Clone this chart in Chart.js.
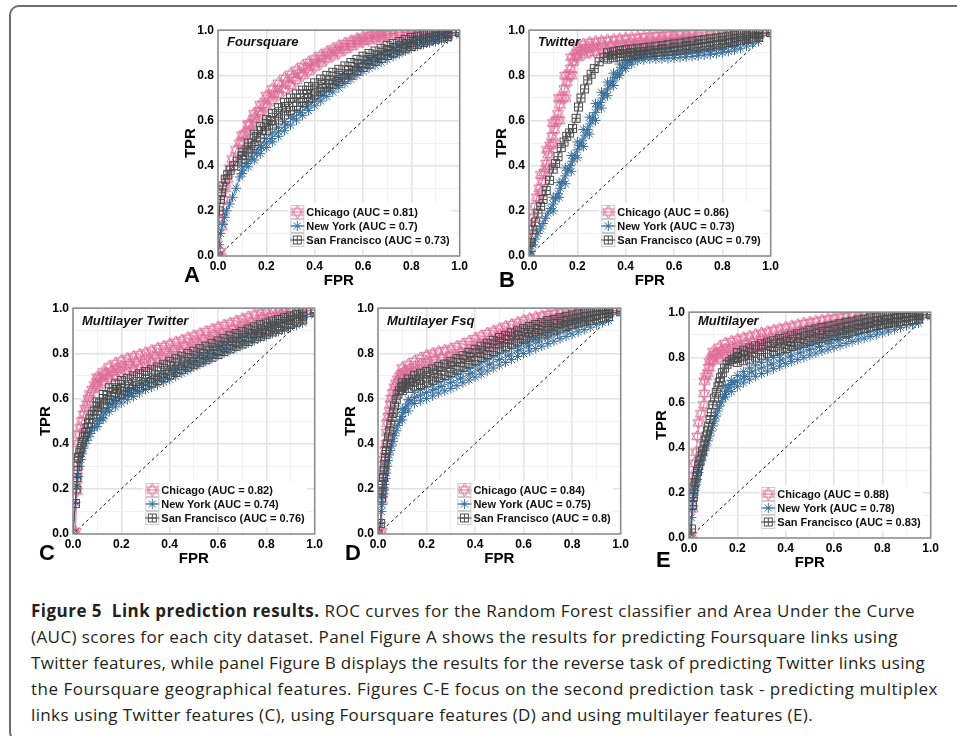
<!DOCTYPE html>
<html>
<head>
<meta charset="utf-8">
<script src="https://cdn.jsdelivr.net/npm/chart.js@4.4.1/dist/chart.umd.min.js"></script>
<style>
  html, body { margin: 0; padding: 0; background: #fff; }
  body { width: 957px; height: 736px; position: relative; overflow: hidden; }
  #frame { position: absolute; left: 9px; top: 5px; width: 1100px; height: 733px; border: 2px solid #6e6e6e; border-radius: 10px; }
  canvas { position: absolute; }
  .tag { position: absolute; font: bold 22px "Liberation Sans", Arial, sans-serif; color: #000; line-height: 1; z-index: 2; }
  .cap { position: absolute; left: 31px; font: 17px "Open Sans", sans-serif; color: #231f20; white-space: pre; line-height: 1; }
</style>
</head>
<body>
<div id="frame"></div>

<div class="tag" style="left:184px;top:264px">A</div>
<div class="tag" style="left:499px;top:269px">B</div>
<div class="tag" style="left:39px;top:542px">C</div>
<div class="tag" style="left:345px;top:542px">D</div>
<div class="tag" style="left:656px;top:549px">E</div>

<div class="cap" style="top:602px"><b>Figure 5  Link prediction results.</b> ROC curves for the Random Forest classifier and Area Under the Curve</div>
<div class="cap" style="top:628px">(AUC) scores for each city dataset. Panel Figure A shows the results for predicting Foursquare links using</div>
<div class="cap" style="top:654px">Twitter features, while panel Figure B displays the results for the reverse task of predicting Twitter links using</div>
<div class="cap" style="top:680px">the Foursquare geographical features. Figures C-E focus on the second prediction task - predicting multiplex</div>
<div class="cap" style="top:706px">links using Twitter features (C), using Foursquare features (D) and using multilayer features (E).</div>

<script>
// ROC curves [FPR, TPR] (centre of each marker trail)
const chicagoA = [[0,0],[0.01,0.02],[0.015,0.13],[0.02,0.19],[0.025,0.25],[0.03,0.3],[0.04,0.34],[0.05,0.39],[0.06,0.43],[0.075,0.47],[0.09,0.5],[0.11,0.54],[0.13,0.58],[0.15,0.61],[0.17,0.64],[0.19,0.67],[0.21,0.7],[0.23,0.72],[0.25,0.74],[0.28,0.765],[0.31,0.79],[0.34,0.81],[0.37,0.835],[0.4,0.855],[0.43,0.875],[0.46,0.895],[0.49,0.91],[0.52,0.925],[0.55,0.94],[0.58,0.955],[0.62,0.965],[0.66,0.975],[0.7,0.982],[0.75,0.988],[0.8,0.99],[0.86,0.99],[0.92,0.99],[1,0.99]];
const newYorkA = [[0,0],[0.005,0.05],[0.01,0.1],[0.02,0.14],[0.027,0.17],[0.035,0.2],[0.048,0.23],[0.06,0.26],[0.075,0.3],[0.09,0.35],[0.1,0.38],[0.12,0.41],[0.14,0.43],[0.16,0.455],[0.18,0.48],[0.2,0.5],[0.22,0.52],[0.25,0.55],[0.28,0.58],[0.31,0.61],[0.34,0.635],[0.37,0.66],[0.4,0.685],[0.43,0.71],[0.46,0.735],[0.5,0.765],[0.54,0.795],[0.58,0.825],[0.62,0.85],[0.66,0.87],[0.7,0.89],[0.74,0.91],[0.78,0.93],[0.82,0.945],[0.86,0.955],[0.9,0.965],[0.95,0.975],[1,0.98]];
const sanFranciscoA = [[0,0],[0.005,0.2],[0.01,0.25],[0.015,0.28],[0.02,0.31],[0.03,0.34],[0.04,0.36],[0.05,0.38],[0.065,0.4],[0.08,0.42],[0.1,0.445],[0.12,0.47],[0.14,0.5],[0.16,0.53],[0.18,0.555],[0.2,0.58],[0.22,0.6],[0.25,0.63],[0.28,0.655],[0.31,0.68],[0.34,0.7],[0.37,0.72],[0.4,0.74],[0.43,0.76],[0.46,0.78],[0.5,0.8],[0.54,0.825],[0.58,0.85],[0.62,0.87],[0.66,0.89],[0.7,0.91],[0.74,0.925],[0.78,0.94],[0.82,0.955],[0.86,0.965],[0.9,0.975],[0.95,0.985],[1,0.99]];

const chicagoB = [[0,0],[0.005,0.06],[0.01,0.12],[0.015,0.17],[0.023,0.22],[0.033,0.26],[0.044,0.3],[0.054,0.33],[0.064,0.37],[0.072,0.41],[0.08,0.45],[0.088,0.49],[0.096,0.53],[0.104,0.56],[0.112,0.6],[0.12,0.63],[0.128,0.67],[0.137,0.7],[0.147,0.74],[0.156,0.77],[0.165,0.8],[0.173,0.83],[0.182,0.86],[0.192,0.885],[0.2,0.9],[0.215,0.91],[0.23,0.917],[0.25,0.922],[0.27,0.926],[0.3,0.93],[0.34,0.935],[0.38,0.94],[0.42,0.945],[0.46,0.95],[0.5,0.955],[0.55,0.96],[0.6,0.965],[0.65,0.97],[0.7,0.975],[0.75,0.98],[0.8,0.984],[0.85,0.988],[0.9,0.99],[0.95,0.99],[1,0.99]];
const newYorkB = [[0,0],[0.008,0.02],[0.016,0.05],[0.026,0.075],[0.037,0.1],[0.048,0.12],[0.058,0.144],[0.068,0.167],[0.078,0.19],[0.09,0.21],[0.1,0.23],[0.11,0.253],[0.12,0.276],[0.13,0.3],[0.14,0.33],[0.15,0.355],[0.16,0.38],[0.17,0.4],[0.18,0.42],[0.19,0.445],[0.2,0.47],[0.21,0.49],[0.22,0.51],[0.232,0.535],[0.243,0.56],[0.253,0.585],[0.263,0.61],[0.274,0.635],[0.284,0.66],[0.295,0.68],[0.305,0.7],[0.315,0.72],[0.325,0.74],[0.336,0.758],[0.346,0.775],[0.356,0.79],[0.366,0.805],[0.377,0.82],[0.387,0.834],[0.397,0.845],[0.407,0.856],[0.418,0.864],[0.428,0.87],[0.44,0.875],[0.455,0.88],[0.48,0.883],[0.52,0.886],[0.56,0.888],[0.6,0.89],[0.65,0.895],[0.7,0.9],[0.75,0.907],[0.8,0.915],[0.85,0.928],[0.9,0.945],[0.95,0.965],[1,0.985]];
const sanFranciscoB = [[0,0],[0.008,0.06],[0.016,0.115],[0.026,0.15],[0.037,0.19],[0.048,0.22],[0.058,0.25],[0.071,0.29],[0.085,0.335],[0.1,0.385],[0.11,0.41],[0.12,0.44],[0.133,0.48],[0.145,0.505],[0.156,0.53],[0.168,0.545],[0.18,0.565],[0.195,0.61],[0.205,0.66],[0.215,0.7],[0.23,0.74],[0.243,0.78],[0.257,0.805],[0.27,0.83],[0.29,0.86],[0.31,0.88],[0.345,0.89],[0.38,0.897],[0.42,0.902],[0.46,0.907],[0.5,0.912],[0.55,0.918],[0.6,0.925],[0.65,0.932],[0.7,0.94],[0.75,0.947],[0.8,0.955],[0.85,0.965],[0.9,0.975],[0.95,0.983],[1,0.99]];

const chicagoC = [[0,0],[0.01,0.01],[0.016,0.19],[0.016,0.24],[0.017,0.28],[0.018,0.34],[0.02,0.4],[0.025,0.44],[0.03,0.47],[0.037,0.5],[0.044,0.53],[0.051,0.555],[0.058,0.575],[0.064,0.6],[0.07,0.62],[0.08,0.64],[0.09,0.66],[0.1,0.675],[0.11,0.69],[0.125,0.7],[0.14,0.71],[0.16,0.72],[0.18,0.73],[0.2,0.74],[0.23,0.75],[0.26,0.762],[0.3,0.775],[0.34,0.79],[0.38,0.805],[0.42,0.82],[0.46,0.835],[0.5,0.85],[0.54,0.865],[0.58,0.88],[0.62,0.895],[0.66,0.91],[0.7,0.925],[0.74,0.94],[0.78,0.955],[0.82,0.965],[0.86,0.975],[0.9,0.983],[0.95,0.99],[1,0.99]];
const newYorkC = [[0,0],[0.01,0.14],[0.016,0.21],[0.021,0.255],[0.027,0.3],[0.032,0.33],[0.037,0.355],[0.043,0.38],[0.05,0.4],[0.057,0.415],[0.064,0.43],[0.071,0.445],[0.078,0.46],[0.089,0.475],[0.1,0.49],[0.11,0.503],[0.12,0.516],[0.133,0.537],[0.147,0.56],[0.163,0.575],[0.18,0.588],[0.2,0.6],[0.23,0.617],[0.26,0.635],[0.3,0.66],[0.34,0.677],[0.38,0.695],[0.42,0.715],[0.46,0.738],[0.5,0.76],[0.54,0.78],[0.58,0.8],[0.62,0.82],[0.66,0.838],[0.7,0.855],[0.74,0.873],[0.78,0.89],[0.82,0.907],[0.86,0.92],[0.9,0.935],[0.95,0.953],[1,0.97]];
const sanFranciscoC = [[0,0],[0.01,0.135],[0.013,0.2],[0.016,0.25],[0.02,0.3],[0.023,0.34],[0.028,0.36],[0.033,0.38],[0.038,0.405],[0.044,0.43],[0.051,0.45],[0.058,0.47],[0.064,0.49],[0.07,0.51],[0.08,0.53],[0.09,0.545],[0.1,0.565],[0.11,0.58],[0.125,0.6],[0.14,0.615],[0.16,0.628],[0.18,0.64],[0.2,0.65],[0.23,0.663],[0.26,0.675],[0.3,0.69],[0.34,0.705],[0.38,0.725],[0.42,0.745],[0.46,0.762],[0.5,0.78],[0.54,0.798],[0.58,0.815],[0.62,0.835],[0.66,0.853],[0.7,0.87],[0.74,0.888],[0.78,0.903],[0.82,0.918],[0.86,0.932],[0.9,0.948],[0.95,0.965],[1,0.98]];

const chicagoD = [[0,0],[0.014,0.01],[0.016,0.15],[0.02,0.19],[0.02,0.25],[0.024,0.29],[0.027,0.33],[0.031,0.37],[0.034,0.4],[0.036,0.45],[0.038,0.49],[0.043,0.52],[0.048,0.545],[0.052,0.575],[0.055,0.6],[0.061,0.625],[0.068,0.65],[0.075,0.668],[0.082,0.685],[0.09,0.698],[0.096,0.707],[0.105,0.715],[0.116,0.72],[0.13,0.728],[0.15,0.738],[0.175,0.75],[0.2,0.76],[0.23,0.77],[0.26,0.78],[0.3,0.79],[0.34,0.805],[0.38,0.825],[0.42,0.845],[0.46,0.862],[0.5,0.88],[0.54,0.896],[0.58,0.912],[0.62,0.926],[0.66,0.94],[0.7,0.95],[0.74,0.96],[0.78,0.97],[0.82,0.978],[0.86,0.985],[0.9,0.99],[0.95,0.99],[1,0.99]];
const newYorkD = [[0,0],[0.01,0.05],[0.014,0.1],[0.017,0.13],[0.02,0.165],[0.024,0.195],[0.027,0.22],[0.031,0.245],[0.034,0.27],[0.038,0.3],[0.041,0.325],[0.046,0.35],[0.05,0.37],[0.056,0.39],[0.062,0.41],[0.068,0.435],[0.075,0.457],[0.082,0.48],[0.089,0.5],[0.096,0.52],[0.103,0.538],[0.113,0.557],[0.123,0.575],[0.136,0.59],[0.15,0.604],[0.175,0.615],[0.2,0.626],[0.23,0.64],[0.26,0.653],[0.3,0.67],[0.34,0.69],[0.38,0.71],[0.42,0.73],[0.46,0.752],[0.5,0.773],[0.54,0.793],[0.58,0.814],[0.62,0.833],[0.66,0.85],[0.7,0.868],[0.74,0.886],[0.78,0.902],[0.82,0.918],[0.86,0.934],[0.9,0.95],[0.95,0.965],[1,0.978]];
const sanFranciscoD = [[0,0],[0.011,0.047],[0.014,0.16],[0.016,0.19],[0.018,0.22],[0.022,0.25],[0.025,0.28],[0.028,0.31],[0.03,0.34],[0.034,0.37],[0.038,0.4],[0.043,0.43],[0.048,0.457],[0.053,0.487],[0.058,0.516],[0.063,0.54],[0.068,0.567],[0.075,0.595],[0.082,0.62],[0.089,0.635],[0.096,0.648],[0.106,0.656],[0.116,0.663],[0.13,0.67],[0.144,0.677],[0.17,0.686],[0.2,0.695],[0.23,0.708],[0.26,0.722],[0.3,0.74],[0.34,0.76],[0.38,0.782],[0.42,0.805],[0.46,0.825],[0.5,0.845],[0.54,0.862],[0.58,0.878],[0.62,0.892],[0.66,0.906],[0.7,0.92],[0.74,0.932],[0.78,0.944],[0.82,0.954],[0.86,0.963],[0.9,0.97],[0.95,0.978],[1,0.985]];

const chicagoE = [[0,0],[0.01,0.012],[0.014,0.13],[0.014,0.19],[0.015,0.23],[0.016,0.276],[0.023,0.33],[0.03,0.38],[0.035,0.45],[0.04,0.51],[0.05,0.55],[0.062,0.59],[0.063,0.64],[0.064,0.695],[0.07,0.715],[0.078,0.73],[0.082,0.755],[0.085,0.78],[0.092,0.793],[0.1,0.805],[0.11,0.813],[0.12,0.82],[0.135,0.828],[0.15,0.835],[0.175,0.843],[0.2,0.85],[0.23,0.86],[0.26,0.868],[0.3,0.88],[0.34,0.89],[0.38,0.9],[0.42,0.91],[0.46,0.92],[0.5,0.93],[0.54,0.938],[0.58,0.946],[0.62,0.954],[0.66,0.962],[0.7,0.97],[0.74,0.975],[0.78,0.98],[0.82,0.984],[0.86,0.988],[0.9,0.99],[0.95,0.99],[1,0.99]];
const newYorkE = [[0,0],[0.01,0.09],[0.013,0.13],[0.016,0.166],[0.02,0.19],[0.023,0.21],[0.028,0.235],[0.034,0.26],[0.039,0.29],[0.044,0.32],[0.051,0.342],[0.058,0.364],[0.064,0.386],[0.071,0.408],[0.078,0.43],[0.085,0.452],[0.092,0.474],[0.099,0.496],[0.106,0.518],[0.112,0.54],[0.119,0.562],[0.126,0.584],[0.133,0.602],[0.14,0.62],[0.147,0.635],[0.154,0.65],[0.164,0.665],[0.174,0.68],[0.187,0.688],[0.2,0.695],[0.23,0.715],[0.26,0.735],[0.3,0.753],[0.34,0.77],[0.38,0.788],[0.42,0.805],[0.46,0.82],[0.5,0.834],[0.54,0.848],[0.58,0.862],[0.62,0.876],[0.66,0.888],[0.7,0.9],[0.74,0.912],[0.78,0.924],[0.82,0.936],[0.86,0.948],[0.9,0.96],[0.95,0.97],[1,0.98]];
const sanFranciscoE = [[0,0],[0.01,0.04],[0.014,0.144],[0.017,0.18],[0.02,0.217],[0.025,0.245],[0.03,0.27],[0.035,0.295],[0.04,0.32],[0.045,0.342],[0.05,0.364],[0.056,0.386],[0.062,0.408],[0.066,0.43],[0.071,0.452],[0.076,0.474],[0.081,0.496],[0.087,0.525],[0.092,0.555],[0.099,0.59],[0.106,0.62],[0.113,0.645],[0.12,0.67],[0.125,0.69],[0.13,0.71],[0.138,0.732],[0.147,0.753],[0.157,0.77],[0.167,0.783],[0.178,0.79],[0.188,0.797],[0.2,0.8],[0.23,0.81],[0.26,0.82],[0.3,0.835],[0.34,0.848],[0.38,0.86],[0.42,0.87],[0.46,0.883],[0.5,0.895],[0.54,0.905],[0.58,0.915],[0.62,0.925],[0.66,0.935],[0.7,0.945],[0.74,0.953],[0.78,0.961],[0.82,0.968],[0.86,0.975],[0.9,0.98],[0.95,0.985],[1,0.99]];

// width of each marker trail: [FPR, lower TPR, upper TPR] read at the band edges
const chicagoABand = [[0.1,0.505,0.535],[0.125,0.55,0.585],[0.15,0.59,0.63],[0.175,0.625,0.67],[0.2,0.66,0.71],[0.225,0.69,0.74],[0.25,0.715,0.765],[0.275,0.737,0.787],[0.3,0.755,0.805],[0.325,0.778,0.823],[0.35,0.8,0.84],[0.375,0.818,0.857],[0.4,0.837,0.873],[0.425,0.855,0.888],[0.45,0.873,0.903],[0.475,0.887,0.917],[0.5,0.9,0.93],[0.525,0.914,0.941],[0.55,0.928,0.952],[0.575,0.94,0.962],[0.6,0.95,0.97],[0.625,0.956,0.976],[0.65,0.962,0.982],[0.675,0.967,0.986],[0.7,0.972,0.99],[0.75,0.978,0.995],[0.8,0.98,0.997],[0.85,0.98,0.997],[0.9,0.98,0.997],[0.95,0.98,0.997]];
const newYorkABand = [[0.1,0.365,0.395],[0.125,0.395,0.428],[0.15,0.425,0.46],[0.175,0.453,0.49],[0.2,0.48,0.52],[0.225,0.505,0.545],[0.25,0.53,0.57],[0.275,0.555,0.595],[0.3,0.58,0.62],[0.325,0.602,0.642],[0.35,0.623,0.663],[0.375,0.644,0.684],[0.4,0.665,0.705],[0.425,0.686,0.726],[0.45,0.707,0.747],[0.475,0.726,0.766],[0.5,0.745,0.785],[0.525,0.764,0.804],[0.55,0.782,0.822],[0.575,0.8,0.84],[0.6,0.818,0.858],[0.625,0.832,0.872],[0.65,0.845,0.885],[0.675,0.858,0.898],[0.7,0.87,0.91],[0.725,0.883,0.923],[0.75,0.895,0.935],[0.775,0.908,0.946],[0.8,0.92,0.956],[0.825,0.929,0.963],[0.85,0.937,0.97],[0.875,0.944,0.975],[0.9,0.95,0.98],[0.925,0.956,0.984],[0.95,0.962,0.988]];
const sanFranciscoABand = [[0.1,0.43,0.46],[0.125,0.46,0.5],[0.15,0.49,0.54],[0.175,0.523,0.573],[0.2,0.555,0.605],[0.225,0.58,0.632],[0.25,0.603,0.657],[0.275,0.625,0.68],[0.3,0.645,0.7],[0.325,0.663,0.718],[0.35,0.68,0.735],[0.375,0.697,0.751],[0.4,0.713,0.767],[0.425,0.73,0.784],[0.45,0.746,0.8],[0.475,0.76,0.814],[0.5,0.773,0.827],[0.525,0.789,0.842],[0.55,0.805,0.857],[0.575,0.82,0.871],[0.6,0.835,0.885],[0.625,0.849,0.897],[0.65,0.862,0.908],[0.675,0.875,0.92],[0.7,0.888,0.932],[0.725,0.898,0.941],[0.75,0.908,0.95],[0.775,0.918,0.959],[0.8,0.928,0.968],[0.825,0.937,0.974],[0.85,0.945,0.98],[0.875,0.953,0.985],[0.9,0.96,0.99],[0.925,0.966,0.993],[0.95,0.972,0.995]];

const chicagoBBand = [[0.05,0.28,0.36],[0.075,0.39,0.47],[0.1,0.5,0.59],[0.125,0.6,0.7],[0.15,0.7,0.8],[0.175,0.8,0.88],[0.2,0.88,0.925],[0.225,0.893,0.937],[0.25,0.9,0.945],[0.275,0.903,0.949],[0.3,0.905,0.952],[0.325,0.909,0.955],[0.35,0.913,0.958],[0.375,0.917,0.961],[0.4,0.92,0.963],[0.425,0.924,0.966],[0.45,0.927,0.968],[0.475,0.931,0.971],[0.5,0.935,0.973],[0.525,0.939,0.975],[0.55,0.942,0.977],[0.575,0.945,0.979],[0.6,0.948,0.98],[0.625,0.952,0.983],[0.65,0.955,0.985],[0.675,0.958,0.987],[0.7,0.96,0.988],[0.75,0.965,0.992],[0.8,0.97,0.995],[0.85,0.975,0.997],[0.9,0.978,0.998],[0.95,0.98,0.998]];
const newYorkBBand = [[0.1,0.2,0.26],[0.125,0.26,0.325],[0.15,0.32,0.39],[0.175,0.375,0.445],[0.2,0.435,0.505],[0.225,0.485,0.56],[0.25,0.54,0.615],[0.275,0.6,0.675],[0.3,0.655,0.725],[0.325,0.71,0.77],[0.35,0.755,0.81],[0.375,0.8,0.85],[0.4,0.83,0.868],[0.425,0.85,0.882],[0.45,0.865,0.892],[0.475,0.869,0.895],[0.5,0.872,0.898],[0.525,0.873,0.899],[0.55,0.874,0.9],[0.575,0.875,0.901],[0.6,0.877,0.903],[0.625,0.88,0.906],[0.65,0.882,0.908],[0.675,0.884,0.91],[0.7,0.887,0.913],[0.725,0.89,0.917],[0.75,0.893,0.92],[0.775,0.896,0.925],[0.8,0.9,0.93],[0.825,0.906,0.937],[0.85,0.912,0.943],[0.875,0.92,0.952],[0.9,0.93,0.96],[0.925,0.94,0.97],[0.95,0.95,0.978]];
const sanFranciscoBBand = [[0.325,0.872,0.9],[0.35,0.878,0.905],[0.375,0.882,0.91],[0.4,0.886,0.914],[0.425,0.889,0.917],[0.45,0.892,0.92],[0.475,0.895,0.923],[0.5,0.898,0.926],[0.525,0.901,0.929],[0.55,0.904,0.932],[0.575,0.907,0.936],[0.6,0.91,0.94],[0.625,0.913,0.943],[0.65,0.917,0.947],[0.675,0.921,0.951],[0.7,0.925,0.955],[0.725,0.928,0.958],[0.75,0.932,0.962],[0.775,0.936,0.966],[0.8,0.94,0.97],[0.825,0.945,0.974],[0.85,0.95,0.978],[0.875,0.955,0.982],[0.9,0.96,0.985],[0.925,0.965,0.988],[0.95,0.97,0.99]];

const chicagoCBand = [[0.1,0.655,0.695],[0.125,0.673,0.718],[0.15,0.69,0.74],[0.175,0.702,0.754],[0.2,0.713,0.767],[0.225,0.722,0.776],[0.25,0.731,0.785],[0.275,0.74,0.794],[0.3,0.748,0.802],[0.325,0.757,0.811],[0.35,0.767,0.821],[0.375,0.776,0.83],[0.4,0.786,0.84],[0.425,0.795,0.849],[0.45,0.804,0.858],[0.475,0.813,0.867],[0.5,0.823,0.877],[0.525,0.832,0.886],[0.55,0.842,0.896],[0.575,0.851,0.905],[0.6,0.861,0.915],[0.625,0.87,0.924],[0.65,0.879,0.933],[0.675,0.888,0.942],[0.7,0.898,0.952],[0.725,0.907,0.961],[0.75,0.917,0.97],[0.775,0.926,0.978],[0.8,0.935,0.985],[0.825,0.943,0.99],[0.85,0.95,0.995],[0.875,0.957,0.997],[0.9,0.963,0.998],[0.95,0.975,0.998]];
const newYorkCBand = [[0.1,0.475,0.505],[0.125,0.51,0.543],[0.15,0.543,0.58],[0.175,0.563,0.601],[0.2,0.58,0.62],[0.225,0.595,0.635],[0.25,0.609,0.649],[0.275,0.624,0.664],[0.3,0.64,0.68],[0.325,0.65,0.69],[0.35,0.661,0.701],[0.375,0.673,0.713],[0.4,0.685,0.725],[0.425,0.698,0.738],[0.45,0.712,0.752],[0.475,0.726,0.766],[0.5,0.74,0.78],[0.525,0.752,0.792],[0.55,0.765,0.805],[0.575,0.777,0.817],[0.6,0.79,0.83],[0.625,0.802,0.842],[0.65,0.814,0.854],[0.675,0.825,0.865],[0.7,0.835,0.875],[0.725,0.846,0.886],[0.75,0.857,0.897],[0.775,0.868,0.908],[0.8,0.878,0.918],[0.825,0.888,0.928],[0.85,0.897,0.937],[0.875,0.906,0.946],[0.9,0.915,0.955],[0.925,0.925,0.963],[0.95,0.935,0.97]];
const sanFranciscoCBand = [[0.1,0.545,0.585],[0.125,0.572,0.618],[0.15,0.595,0.648],[0.175,0.608,0.665],[0.2,0.62,0.68],[0.225,0.63,0.69],[0.25,0.641,0.701],[0.275,0.65,0.71],[0.3,0.66,0.72],[0.325,0.67,0.73],[0.35,0.68,0.74],[0.375,0.692,0.752],[0.4,0.705,0.765],[0.425,0.716,0.776],[0.45,0.728,0.788],[0.475,0.739,0.799],[0.5,0.75,0.81],[0.525,0.761,0.821],[0.55,0.772,0.832],[0.575,0.783,0.843],[0.6,0.795,0.855],[0.625,0.808,0.867],[0.65,0.82,0.878],[0.675,0.831,0.888],[0.7,0.842,0.898],[0.725,0.853,0.908],[0.75,0.865,0.918],[0.775,0.875,0.927],[0.8,0.885,0.935],[0.825,0.895,0.943],[0.85,0.905,0.95],[0.875,0.917,0.958],[0.9,0.928,0.966],[0.925,0.938,0.973],[0.95,0.948,0.98]];

const chicagoDBand = [[0.1,0.69,0.735],[0.125,0.7,0.75],[0.15,0.71,0.765],[0.175,0.72,0.778],[0.2,0.73,0.79],[0.225,0.739,0.799],[0.25,0.747,0.807],[0.275,0.753,0.813],[0.3,0.76,0.82],[0.325,0.77,0.83],[0.35,0.78,0.84],[0.375,0.792,0.852],[0.4,0.805,0.865],[0.425,0.817,0.877],[0.45,0.828,0.888],[0.475,0.839,0.898],[0.5,0.85,0.908],[0.525,0.861,0.918],[0.55,0.872,0.927],[0.575,0.882,0.936],[0.6,0.892,0.945],[0.625,0.901,0.953],[0.65,0.91,0.96],[0.675,0.918,0.966],[0.7,0.925,0.972],[0.725,0.933,0.977],[0.75,0.94,0.982],[0.775,0.947,0.986],[0.8,0.953,0.99],[0.825,0.959,0.993],[0.85,0.965,0.995],[0.875,0.97,0.997],[0.9,0.975,0.998],[0.95,0.978,0.998]];
const newYorkDBand = [[0.1,0.505,0.555],[0.125,0.545,0.595],[0.15,0.578,0.628],[0.175,0.59,0.64],[0.2,0.6,0.652],[0.225,0.612,0.663],[0.25,0.624,0.674],[0.275,0.634,0.684],[0.3,0.645,0.695],[0.325,0.657,0.707],[0.35,0.67,0.72],[0.375,0.682,0.732],[0.4,0.695,0.745],[0.425,0.708,0.758],[0.45,0.722,0.772],[0.475,0.735,0.785],[0.5,0.748,0.798],[0.525,0.76,0.81],[0.55,0.773,0.823],[0.575,0.786,0.836],[0.6,0.799,0.849],[0.625,0.81,0.86],[0.65,0.821,0.871],[0.675,0.832,0.882],[0.7,0.843,0.893],[0.725,0.854,0.904],[0.75,0.865,0.915],[0.775,0.875,0.925],[0.8,0.885,0.935],[0.825,0.895,0.945],[0.85,0.905,0.955],[0.875,0.916,0.964],[0.9,0.927,0.972],[0.925,0.936,0.979],[0.95,0.945,0.985]];
const sanFranciscoDBand = [[0.1,0.635,0.67],[0.125,0.645,0.687],[0.15,0.655,0.703],[0.175,0.662,0.712],[0.2,0.67,0.72],[0.225,0.681,0.731],[0.25,0.692,0.742],[0.275,0.703,0.753],[0.3,0.715,0.765],[0.325,0.727,0.777],[0.35,0.74,0.79],[0.375,0.754,0.804],[0.4,0.768,0.818],[0.425,0.782,0.832],[0.45,0.795,0.845],[0.475,0.808,0.858],[0.5,0.82,0.87],[0.525,0.83,0.88],[0.55,0.841,0.891],[0.575,0.85,0.9],[0.6,0.86,0.91],[0.625,0.869,0.919],[0.65,0.878,0.928],[0.675,0.886,0.936],[0.7,0.895,0.945],[0.725,0.903,0.951],[0.75,0.912,0.958],[0.775,0.92,0.964],[0.8,0.927,0.97],[0.825,0.934,0.975],[0.85,0.94,0.98],[0.875,0.946,0.984],[0.9,0.952,0.987],[0.925,0.957,0.99],[0.95,0.962,0.992]];

const chicagoEBand = [[0.1,0.785,0.825],[0.125,0.797,0.845],[0.15,0.808,0.862],[0.175,0.814,0.87],[0.2,0.82,0.878],[0.225,0.829,0.886],[0.25,0.837,0.893],[0.275,0.845,0.9],[0.3,0.852,0.907],[0.325,0.858,0.913],[0.35,0.865,0.92],[0.375,0.872,0.926],[0.4,0.878,0.932],[0.425,0.885,0.938],[0.45,0.892,0.944],[0.475,0.898,0.95],[0.5,0.905,0.955],[0.525,0.91,0.96],[0.55,0.915,0.965],[0.575,0.921,0.969],[0.6,0.927,0.973],[0.625,0.932,0.978],[0.65,0.938,0.982],[0.675,0.944,0.986],[0.7,0.95,0.99],[0.725,0.954,0.992],[0.75,0.958,0.994],[0.8,0.965,0.997],[0.85,0.972,0.998],[0.9,0.977,0.998],[0.95,0.98,0.998]];
const newYorkEBand = [[0.15,0.625,0.675],[0.175,0.648,0.698],[0.2,0.67,0.72],[0.225,0.687,0.737],[0.25,0.703,0.753],[0.275,0.716,0.766],[0.3,0.728,0.778],[0.325,0.739,0.789],[0.35,0.75,0.8],[0.375,0.761,0.811],[0.4,0.772,0.822],[0.425,0.782,0.832],[0.45,0.791,0.841],[0.475,0.8,0.85],[0.5,0.81,0.858],[0.525,0.819,0.867],[0.55,0.828,0.876],[0.575,0.836,0.885],[0.6,0.845,0.893],[0.625,0.853,0.9],[0.65,0.862,0.908],[0.675,0.87,0.916],[0.7,0.877,0.923],[0.725,0.885,0.93],[0.75,0.893,0.937],[0.775,0.9,0.945],[0.8,0.908,0.952],[0.825,0.916,0.959],[0.85,0.924,0.966],[0.875,0.932,0.972],[0.9,0.94,0.978],[0.925,0.946,0.982],[0.95,0.952,0.986]];
const sanFranciscoEBand = [[0.2,0.778,0.822],[0.225,0.785,0.832],[0.25,0.792,0.842],[0.275,0.801,0.851],[0.3,0.81,0.86],[0.325,0.818,0.868],[0.35,0.826,0.876],[0.375,0.833,0.883],[0.4,0.84,0.89],[0.425,0.848,0.898],[0.45,0.855,0.905],[0.475,0.862,0.912],[0.5,0.87,0.92],[0.525,0.877,0.926],[0.55,0.884,0.932],[0.575,0.89,0.938],[0.6,0.897,0.943],[0.625,0.903,0.949],[0.65,0.91,0.955],[0.675,0.916,0.96],[0.7,0.923,0.966],[0.725,0.928,0.97],[0.75,0.934,0.975],[0.775,0.94,0.979],[0.8,0.945,0.983],[0.825,0.95,0.987],[0.85,0.955,0.99],[0.875,0.959,0.993],[0.9,0.963,0.995],[0.925,0.967,0.996],[0.95,0.97,0.997]];

const aucA = ['0.81', '0.7', '0.73'];
const aucB = ['0.86', '0.73', '0.79'];
const aucC = ['0.82', '0.74', '0.76'];
const aucD = ['0.84', '0.75', '0.8'];
const aucE = ['0.88', '0.78', '0.83'];

const cities = ['Chicago', 'New York', 'San Francisco'];
const cityColors = ['#de6e96', '#386e9b', '#4d4d4d'];
const gridValues = [0, 0.1, 0.2, 0.3, 0.4, 0.5, 0.6, 0.7, 0.8, 0.9, 1];
const tickLabels = ['0.0', '0.2', '0.4', '0.6', '0.8', '1.0'];
const diagonal = [[0, 0], [1, 1]];

// plot area in page pixels: left, top, right, bottom
const panels = [
  { title: 'Foursquare', series: [chicagoA, newYorkA, sanFranciscoA], bands: [chicagoABand, newYorkABand, sanFranciscoABand], auc: aucA, area: [218, 29, 461, 256], titleDy: 12 },
  { title: 'Twitter', series: [chicagoB, newYorkB, sanFranciscoB], bands: [chicagoBBand, newYorkBBand, sanFranciscoBBand], auc: aucB, area: [529, 29, 772, 256], titleDy: 12 },
  { title: 'Multilayer Twitter', series: [chicagoC, newYorkC, sanFranciscoC], bands: [chicagoCBand, newYorkCBand, sanFranciscoCBand], auc: aucC, area: [73, 307, 316, 534], titleDy: 13 },
  { title: 'Multilayer Fsq', series: [chicagoD, newYorkD, sanFranciscoD], bands: [chicagoDBand, newYorkDBand, sanFranciscoDBand], auc: aucD, area: [378, 307, 622, 534], titleDy: 13 },
  { title: 'Multilayer', series: [chicagoE, newYorkE, sanFranciscoE], bands: [chicagoEBand, newYorkEBand, sanFranciscoEBand], auc: aucE, area: [689, 311, 932, 538], titleDy: 9 },
];

const FONT = '"Liberation Sans", Arial, sans-serif';
const Y_W = 36, X_H = 34, PAD = 10;

// R-style point shapes: hexagram (pch 11), asterisk (pch 8), boxed plus (pch 12)
const makeHexagram = (color) => {
  const c = document.createElement('canvas');
  c.width = 15; c.height = 15;
  const g = c.getContext('2d');
  g.strokeStyle = color;
  g.lineWidth = 1;
  [[-90, 30, 150], [90, 210, 330]].forEach(angles => {
    g.beginPath();
    angles.forEach((a, i) => {
      const t = a * Math.PI / 180;
      const x = 7.5 + 6.5 * Math.cos(t), y = 7.5 + 6.5 * Math.sin(t);
      if (i) g.lineTo(x, y); else g.moveTo(x, y);
    });
    g.closePath();
    g.stroke();
  });
  return c;
};

const makeBoxPlus = (color) => {
  const c = document.createElement('canvas');
  c.width = 11; c.height = 11;
  const g = c.getContext('2d');
  g.strokeStyle = color;
  g.lineWidth = 1;
  g.strokeRect(1.5, 1.5, 8, 8);
  g.beginPath();
  g.moveTo(5.5, 1.5); g.lineTo(5.5, 9.5);
  g.moveTo(1.5, 5.5); g.lineTo(9.5, 5.5);
  g.stroke();
  return c;
};

const markers = [makeHexagram(cityColors[0]), 'star', makeBoxPlus(cityColors[2])];

const isMajor = (v) => Math.round(v * 10) % 2 === 0;
const labelFor = (v) => {
  const k = Math.round(v * 10);
  return k % 2 ? '' : tickLabels[k / 2];
};

// frame, inset title and legend, drawn over the data like ggplot does
const panelDeco = {
  id: 'panelDeco',
  afterDraw(chart, args, opts) {
    const { ctx, chartArea: a } = chart;
    ctx.save();
    ctx.strokeStyle = '#8c8c8c';
    ctx.lineWidth = 1.5;
    ctx.strokeRect(a.left, a.top, a.width, a.height);

    ctx.font = `italic bold 13px ${FONT}`;
    ctx.fillStyle = '#111';
    ctx.textAlign = 'left';
    ctx.textBaseline = 'middle';
    ctx.fillText(opts.title, a.left + 9, a.top + opts.titleDy);

    const sets = chart.data.datasets.filter(d => d.inLegend);
    ctx.font = `bold 11px ${FONT}`;
    const tw = Math.max(...sets.map(d => ctx.measureText(d.label).width));
    const key = 14, gap = 2, rowH = 14;
    const right = a.right - 10;
    const kx = right - tw - gap - key;
    const y0 = a.bottom - 16 - 2 * rowH;
    ctx.fillStyle = '#fff';
    ctx.fillRect(kx - 2, y0 - rowH / 2 - 2, right - kx + 4, 3 * rowH + 4);
    sets.forEach((d, i) => {
      const cy = y0 + i * rowH;
      ctx.strokeStyle = '#cccccc';
      ctx.lineWidth = 1;
      ctx.strokeRect(kx + 0.5, cy - key / 2 + 0.5, key - 1, key - 1);
      ctx.strokeStyle = d.borderColor;
      ctx.beginPath();
      ctx.moveTo(kx, cy);
      ctx.lineTo(kx + key, cy);
      ctx.stroke();
      Chart.helpers.drawPoint(ctx, { pointStyle: d.pointStyle, radius: d.pointRadius, borderWidth: 1, rotation: 0 }, kx + key / 2, cy);
      ctx.fillStyle = '#111';
      ctx.fillText(d.label, kx + key + gap, cy + 0.5);
    });
    ctx.restore();
  }
};

const tickFont = { family: FONT, size: 12, weight: 'bold' };
const titleFont = { family: FONT, size: 15, weight: 'bold' };

panels.forEach(p => {
  const [l, t, r, b] = p.area;
  const cv = document.createElement('canvas');
  cv.width = r - l + Y_W + PAD;
  cv.height = b - t + PAD + X_H;
  cv.style.left = (l - Y_W) + 'px';
  cv.style.top = (t - PAD) + 'px';
  document.body.appendChild(cv);

  const markerStyle = (i) => ({
    pointStyle: markers[i],
    pointRadius: i === 1 ? 5 : 6,
    pointBorderColor: cityColors[i],
    pointBackgroundColor: 'rgba(0,0,0,0)',
    pointBorderWidth: 1,
  });

  const datasets = [];
  p.series.forEach((s, i) => {
    datasets.push({
      label: `${cities[i]} (AUC = ${p.auc[i]})`,
      inLegend: true,
      data: s,
      showLine: true,
      borderColor: cityColors[i],
      borderWidth: 1,
      order: 3 - i,
      ...markerStyle(i),
    });
    datasets.push({
      label: cities[i] + ' spread',
      data: p.bands[i].flatMap(([x, lo, hi]) => [[x, lo], [x, hi]]),
      showLine: false,
      borderColor: cityColors[i],
      order: 3.5 - i,
      ...markerStyle(i),
    });
  });
  datasets.push({
    label: 'chance',
    data: diagonal,
    showLine: true,
    borderColor: '#111',
    borderWidth: 1,
    borderDash: [3, 3],
    pointRadius: 0,
    order: 5,
  });

  const axis = (title, fit) => ({
    type: 'linear',
    min: 0,
    max: 1,
    afterFit: fit,
    afterBuildTicks: (s) => { s.ticks = gridValues.map(v => ({ value: v })); },
    border: { display: false },
    grid: {
      drawTicks: false,
      color: (c) => (c.tick && isMajor(c.tick.value) ? '#e2e2e2' : '#f1f1f1'),
      lineWidth: (c) => (c.tick && isMajor(c.tick.value) ? 1.5 : 1),
    },
    ticks: {
      autoSkip: false,
      maxRotation: 0,
      padding: title === 'FPR' ? 3 : 4,
      color: '#000',
      font: tickFont,
      callback: (v) => labelFor(v),
    },
    title: { display: true, text: title, color: '#000', font: titleFont, padding: { top: 0, bottom: 0 } },
  });

  new Chart(cv, {
    type: 'scatter',
    data: { datasets },
    options: {
      responsive: false,
      animation: false,
      devicePixelRatio: 1,
      layout: { padding: { top: PAD, right: PAD, left: 0, bottom: 0 } },
      scales: {
        x: axis('FPR', (s) => { s.height = X_H; }),
        y: axis('TPR', (s) => { s.width = Y_W; }),
      },
      plugins: {
        legend: { display: false },
        tooltip: { enabled: false },
        panelDeco: { title: p.title, titleDy: p.titleDy },
      },
    },
    plugins: [panelDeco],
  });
});

// stretch each caption line to the measured line width of the figure
const capWidths = [884, 867, 894, 907, 782];
document.querySelectorAll('.cap').forEach((el, i) => {
  const w = el.getBoundingClientRect().width;
  const n = el.textContent.length;
  el.style.letterSpacing = ((capWidths[i] - w) / n) + 'px';
});
</script>
</body>
</html>
